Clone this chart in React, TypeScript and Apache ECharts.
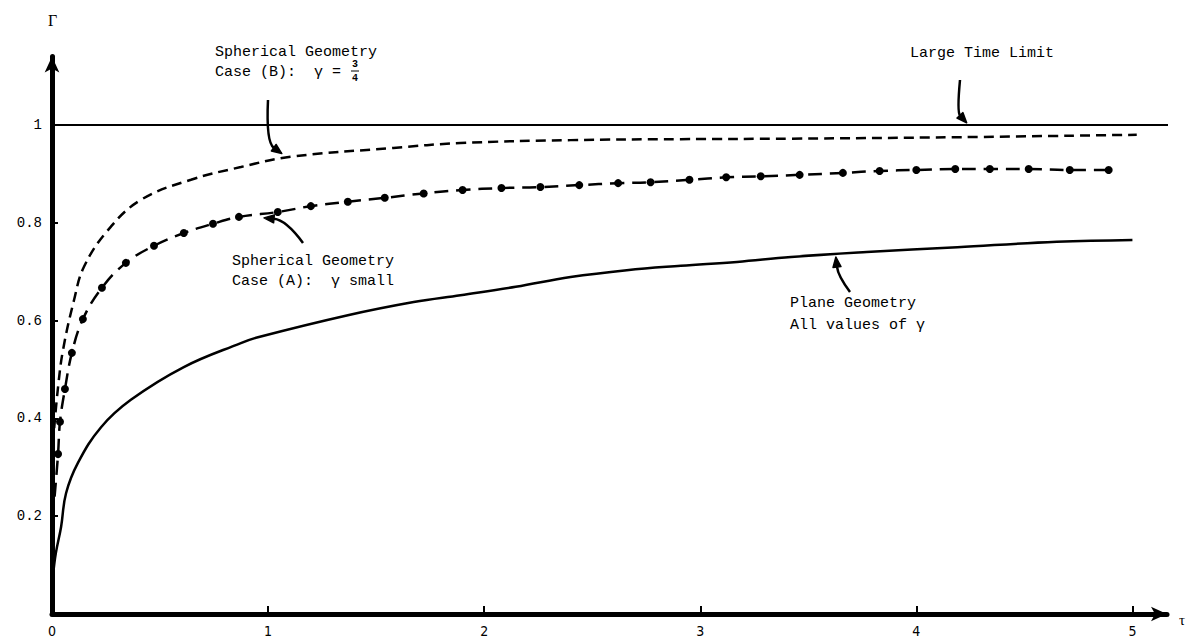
import React, { useEffect, useRef } from "react";
import * as echarts from "echarts";

const xTickValues = [0, 1, 2, 3, 4, 5];
const yTickValues = [0.2, 0.4, 0.6, 0.8, 1];
const yTickLabels = ["0.2", "0.4", "0.6", "0.8", "1"];

const limitTau = [0, 5.21];
const limitGamma = [1, 1];

const planeTau = [0.005, 0.018, 0.042, 0.065, 0.12, 0.227, 0.365, 0.61, 0.874, 0.953, 1.369, 1.674, 1.89, 2.146, 2.4, 2.66, 2.91, 3.17, 3.42, 3.77, 4.19, 4.65, 5.0];
const planeGamma = [0.08, 0.125, 0.178, 0.247, 0.309, 0.382, 0.438, 0.505, 0.554, 0.566, 0.611, 0.638, 0.652, 0.669, 0.689, 0.703, 0.712, 0.72, 0.73, 0.74, 0.75, 0.761, 0.765];

const caseBTau = [0.01, 0.028, 0.051, 0.102, 0.148, 0.259, 0.412, 0.643, 0.874, 1.105, 1.58, 1.89, 2.4, 2.91, 3.42, 4.19, 5.02];
const caseBGamma = [0.38, 0.464, 0.54, 0.642, 0.71, 0.785, 0.847, 0.888, 0.914, 0.935, 0.953, 0.963, 0.969, 0.971, 0.972, 0.975, 0.98];

const caseATau = [0.012, 0.028, 0.037, 0.06, 0.092, 0.143, 0.231, 0.342, 0.472, 0.61, 0.745, 0.865, 1.045, 1.198, 1.369, 1.54, 1.72, 1.9, 2.08, 2.26, 2.44, 2.62, 2.77, 2.95, 3.12, 3.28, 3.46, 3.66, 3.83, 4.0, 4.18, 4.34, 4.52, 4.71, 4.89];
const caseAGamma = [0.24, 0.327, 0.393, 0.46, 0.534, 0.603, 0.667, 0.718, 0.753, 0.779, 0.798, 0.812, 0.822, 0.834, 0.843, 0.851, 0.86, 0.867, 0.871, 0.873, 0.877, 0.881, 0.883, 0.888, 0.893, 0.895, 0.898, 0.902, 0.906, 0.908, 0.91, 0.91, 0.91, 0.908, 0.908];

const MONO = "'Liberation Mono','DejaVu Sans Mono',monospace";
const NARROW = "'Liberation Sans Narrow','DejaVu Sans Condensed','Liberation Sans',sans-serif";

function zip(a: number[], b: number[]) {
  return a.map((t, i) => [t, b[i]]);
}

function arrow(x1: number, y1: number, cx: number, cy: number, x2: number, y2: number) {
  const dx = x2 - cx;
  const dy = y2 - cy;
  const len = Math.sqrt(dx * dx + dy * dy) || 1;
  const ux = dx / len;
  const uy = dy / len;
  const nx = -uy;
  const ny = ux;
  const bx = x2 - ux * 9;
  const by = y2 - uy * 9;
  return [
    {
      type: "bezierCurve",
      shape: { x1, y1, cpx1: cx, cpy1: cy, x2: bx, y2: by },
      style: { stroke: "#000", lineWidth: 2.5, fill: null },
      silent: true,
    },
    {
      type: "polygon",
      shape: {
        points: [
          [x2 + ux * 1, y2 + uy * 1],
          [bx + nx * 4, by + ny * 4],
          [bx - nx * 4, by - ny * 4],
        ],
      },
      style: { fill: "#000", stroke: "#000", lineWidth: 1.5, lineJoin: "round" },
      silent: true,
    },
  ];
}

function label(text: string, x: number, y: number, size = 15, font = MONO, weight = "normal") {
  return {
    type: "text",
    x,
    y,
    style: {
      text,
      fontFamily: font,
      fontSize: size,
      fontWeight: weight,
      fill: "#000",
      verticalAlign: "middle",
      align: "left",
    },
    silent: true,
  };
}

export default function App() {
  const ref = useRef<HTMLDivElement>(null);

  useEffect(() => {
    const chart = echarts.init(ref.current!, null, { renderer: "svg" });
    const option: any = {
      animation: false,
      backgroundColor: "#ffffff",
      grid: { left: 52, right: 25, top: 56.5, bottom: 30, containLabel: false },
      xAxis: {
        type: "value",
        min: 0,
        max: 5.16,
        interval: 1,
        axisLine: {
          show: true,
          onZero: false,
          symbol: ["none", "arrow"],
          symbolSize: [11, 16],
          lineStyle: { color: "#000", width: 5 },
        },
        axisTick: {
          show: true,
          inside: true,
          length: 8,
          customValues: xTickValues.slice(1),
          lineStyle: { color: "#000", width: 2 },
        },
        axisLabel: {
          customValues: xTickValues,
          formatter: (v: number) => String(v),
          color: "#000",
          fontFamily: NARROW,
          fontSize: 14,
          margin: 10,
        },
        splitLine: { show: false },
      },
      yAxis: {
        type: "value",
        min: 0,
        max: 1.14,
        interval: 0.2,
        axisLine: {
          show: true,
          onZero: false,
          symbol: ["none", "arrow"],
          symbolSize: [11, 16],
          lineStyle: { color: "#000", width: 5 },
        },
        axisTick: {
          show: true,
          inside: true,
          length: 6,
          customValues: yTickValues.slice(0, 4),
          lineStyle: { color: "#000", width: 2 },
        },
        axisLabel: {
          customValues: yTickValues,
          formatter: (v: number) => {
            const i = yTickValues.findIndex((t) => Math.abs(t - v) < 1e-6);
            return i >= 0 ? yTickLabels[i] : "";
          },
          color: "#000",
          fontFamily: MONO,
          fontSize: 14,
          margin: 10,
        },
        splitLine: { show: false },
      },
      series: [
        {
          name: "Large Time Limit",
          type: "line",
          data: zip(limitTau, limitGamma),
          clip: false,
          symbol: "none",
          lineStyle: { color: "#000", width: 2 },
          z: 1,
        },
        {
          name: "Case B",
          type: "line",
          data: zip(caseBTau, caseBGamma),
          smooth: 0.4,
          symbol: "none",
          lineStyle: { color: "#000", width: 2.5, type: [10, 6] },
          z: 2,
        },
        {
          name: "Case A",
          type: "line",
          data: zip(caseATau, caseAGamma).map((p, i) =>
            i === 0 ? { value: p, symbol: "none" } : { value: p }
          ),
          smooth: 0.4,
          symbol: "circle",
          symbolSize: 8,
          showSymbol: true,
          itemStyle: { color: "#000" },
          lineStyle: { color: "#000", width: 2.5, type: [14, 8] },
          z: 3,
        },
        {
          name: "Plane",
          type: "line",
          data: zip(planeTau, planeGamma),
          smooth: 0.4,
          symbol: "none",
          lineStyle: { color: "#000", width: 2.5 },
          z: 2,
        },
      ],
      graphic: [
        label("Γ", 48, 20, 16, "'Liberation Serif',serif"),
        label("τ", 1179, 620, 15, "'Liberation Serif',serif"),
        label("Spherical Geometry", 215, 52),
        label("Case (B):  γ = ", 215, 72),
        label("3", 352, 64, 10, MONO, "bold"),
        {
          type: "line",
          shape: { x1: 351, y1: 71, x2: 359, y2: 71 },
          style: { stroke: "#000", lineWidth: 1 },
          silent: true,
        },
        label("4", 352, 78, 10, MONO, "bold"),
        label("Spherical Geometry", 232, 261),
        label("Case (A):  γ small", 232, 281),
        label("Large Time Limit", 910, 53),
        label("Plane Geometry", 790, 303),
        label("All values of γ", 790, 325),
        ...arrow(268, 100, 266, 142, 281, 153),
        ...arrow(960, 80, 957, 112, 966, 122),
        ...arrow(303, 243, 286, 220, 265, 218),
        ...arrow(850, 292, 838, 276, 836, 258),
      ],
    };
    chart.setOption(option);
    return () => {
      chart.dispose();
    };
  }, []);

  return (
    <div
      ref={ref}
      style={{ position: "fixed", left: 0, top: 0, width: 1192, height: 644, background: "#fff" }}
    />
  );
}
